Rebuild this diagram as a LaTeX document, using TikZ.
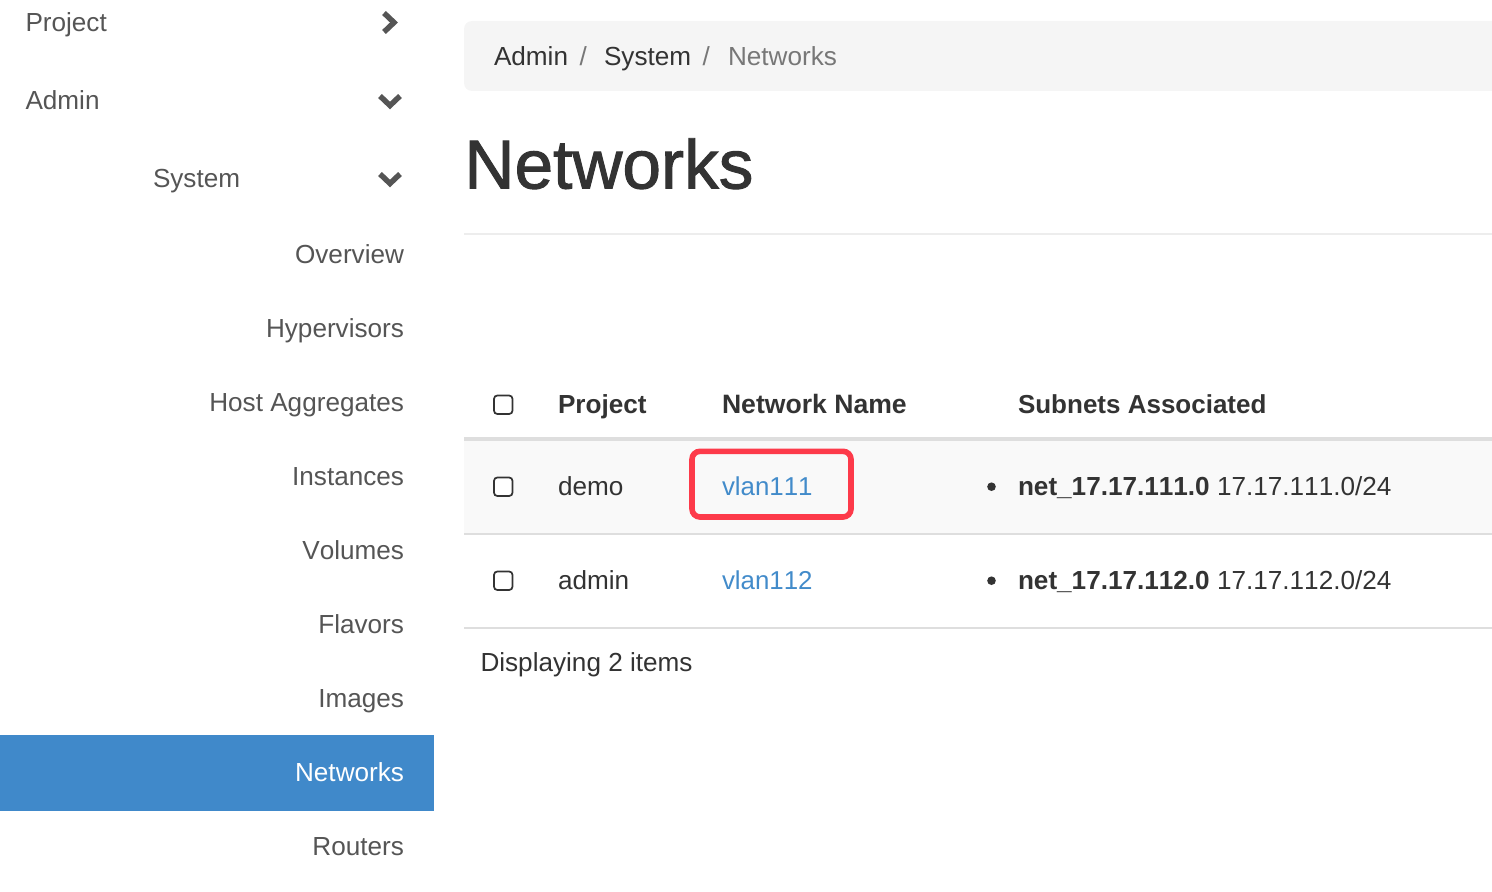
\documentclass[tikz,border=0pt]{standalone}
\usepackage{fontspec}
\setmainfont[Kerning=Off]{Liberation Sans}
\newfontfamily\titlefont[FakeBold=1.4]{Liberation Sans}
\definecolor{sidetext}{RGB}{85,85,85}
\definecolor{bodytext}{RGB}{51,51,51}
\definecolor{linkblue}{RGB}{66,139,202}
\definecolor{activeblue}{RGB}{64,137,202}
\definecolor{crumbgrey}{RGB}{119,119,119}
\definecolor{markred}{RGB}{253,58,74}
\tikzset{every picture/.style={line width=0.75pt},
  sidelabel/.style={anchor=base east,inner sep=0pt,text=sidetext,font=\fontsize{19.6}{24}\selectfont},
  sidehead/.style={sidelabel,anchor=base west},
  crumblabel/.style={anchor=base west,inner sep=0pt,text=bodytext,font=\fontsize{19.6}{24}\selectfont},
  celllabel/.style={crumblabel},
  headlabel/.style={crumblabel,font=\fontsize{19.6}{24}\selectfont\bfseries},
  linklabel/.style={crumblabel,text=linkblue,font=\fontsize{19.4}{24}\selectfont},
  chevronline/.style={draw=sidetext,line width=4.1pt,line join=miter},
  rowrule/.style={draw=black!13,line width=1.5pt},
  tickbox/.style={draw=bodytext,line width=1.3pt,rounded corners=2.5pt,fill=white}
}

\begin{document}
\begin{tikzpicture}[x=0.75pt,y=0.75pt,yscale=-1,xscale=1]
\clip (0,0) rectangle (1492,892);

%Sidebar highlight
\fill [activeblue] (0,735) rectangle (434,811);
%Breadcrumb bar
\fill [black!4,rounded corners=6pt] (464,21) rectangle (1530,91);
%Striped row
\fill [black!2.4] (464,441) rectangle (1492,533);

%Rules
\draw [draw=black!7,line width=1.5pt] (464,234) -- (1492,234);
\draw [rowrule,line width=3pt] (464,439) -- (1492,439);
\draw [rowrule] (464,534) -- (1492,534);
\draw [rowrule] (464,628) -- (1492,628);

%Chevrons
\draw [chevronline] (384,13) -- (394,22.5) -- (384,32);
\draw [chevronline] (380,96) -- (390,105.5) -- (400,96);
\draw [chevronline] (380,174) -- (390,183.5) -- (400,174);

%Check boxes
\draw [tickbox] (494,395.5) rectangle (512.5,414);
\draw [tickbox] (494,477.5) rectangle (512.5,496);
\draw [tickbox] (494,571.5) rectangle (512.5,590);

%Bullets
\fill [bodytext] (991.5,486.7) circle (4.3);
\fill [bodytext] (991.5,580.7) circle (4.3);

%Marker
\draw [draw=markred,line width=4.2pt,rounded corners=6pt] (692,451.3) rectangle (851,517);

% Text Node
\draw (25,32) node [sidehead] (sideproject) {Project};
% Text Node
\draw (25,109) node [sidehead] (sideadmin) {Admin};
% Text Node
\draw (152.5,187) node [sidehead] (sidesystem) {System};
% Text Node
\draw (404.5,263) node [sidelabel] (sideoverview) {Overview};
% Text Node
\draw (404.5,337) node [sidelabel] (sidehyper) {Hypervisors};
% Text Node
\draw (404.5,411) node [sidelabel] (sidehost) {Host Aggregates};
% Text Node
\draw (404.5,485) node [sidelabel] (sideinst) {Instances};
% Text Node
\draw (404.5,559) node [sidelabel] (sidevol) {Volumes};
% Text Node
\draw (404.5,633) node [sidelabel] (sideflav) {Flavors};
% Text Node
\draw (404.5,707) node [sidelabel] (sideimg) {Images};
% Text Node
\draw (404.5,781) node [sidelabel,text=white] (sidenet) {Networks};
% Text Node
\draw (404.5,855) node [sidelabel] (siderout) {Routers};

% Text Node
\draw (493.5,65) node [crumblabel] (crumbadmin) {Admin};
% Text Node
\draw (579,65) node [crumblabel,text=crumbgrey] (crumbslasha) {/};
% Text Node
\draw (603.5,65) node [crumblabel] (crumbsystem) {System};
% Text Node
\draw (702,65) node [crumblabel,text=crumbgrey] (crumbslashb) {/};
% Text Node
\draw (727.5,65) node [crumblabel,text=crumbgrey] (crumbnet) {Networks};
% Text Node
\draw (464,188.5) node [crumblabel,font=\fontsize{52}{60}\selectfont\titlefont] (pagetitle) {Networks};

% Text Node
\draw (557.5,413) node [headlabel] (headproject) {Project};
% Text Node
\draw (721.5,413) node [headlabel,font=\fontsize{19.95}{24}\selectfont\bfseries] (headname) {Network Name};
% Text Node
\draw (1017.5,413) node [headlabel,font=\fontsize{19.5}{24}\selectfont\bfseries] (headsubnet) {Subnets Associated};

% Text Node
\draw (557.5,495) node [celllabel] (demoproject) {demo};
% Text Node
\draw (721.5,495) node [linklabel] (demolink) {vlan111};
% Text Node
\draw (1017.5,495) node [celllabel] (demosubnet) {\textbf{net\_17.17.111.0} 17.17.111.0/24};
% Text Node
\draw (557.5,589) node [celllabel] (adminproject) {admin};
% Text Node
\draw (721.5,589) node [linklabel] (adminlink) {vlan112};
% Text Node
\draw (1017.5,589) node [celllabel] (adminsubnet) {\textbf{net\_17.17.112.0} 17.17.112.0/24};
% Text Node
\draw (480,671) node [celllabel] (itemcount) {Displaying 2 items};

\end{tikzpicture}
\end{document}
